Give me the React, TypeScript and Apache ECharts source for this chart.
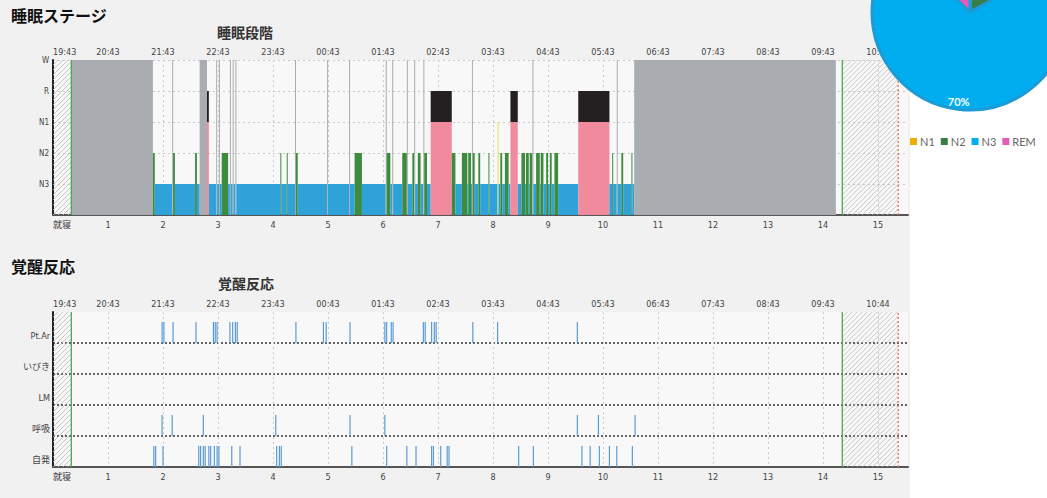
import React, { useEffect, useRef } from "react";
import * as echarts from "echarts";

// ---------- data ----------
const hourLabelsBottom = ["就寝", "1", "2", "3", "4", "5", "6", "7", "8", "9", "10", "11", "12", "13", "14", "15"];
const clockLabelsStage = ["19:43", "20:43", "21:43", "22:43", "23:43", "00:43", "01:43", "02:43", "03:43", "04:43", "05:43", "06:43", "07:43", "08:43", "09:43", "10:43"];
const clockLabelsArousal = ["19:43", "20:43", "21:43", "22:43", "23:43", "00:43", "01:43", "02:43", "03:43", "04:43", "05:43", "06:43", "07:43", "08:43", "09:43", "10:44"];
const stageAxisLabels = ["", "N3", "N2", "N1", "R", "W"];
const xMaxHours = 15.545;

// minutes from bedtime
const lightsOffMin = 20;
const lightsOnMin = 861;
const recordEndMin = 922;

// [start min, end min, stage]
const hypnogram: [number, number, string][] = [
  [20, 109, "W"], [109, 111, "N2"], [111, 130, "N3"], [130, 131, "W"], [131, 133, "N2"],
  [133, 155, "N3"], [155, 157, "N2"], [157, 160, "N3"], [160, 168, "W"], [168, 170, "R"],
  [170, 178, "N3"], [178, 179, "W"], [179, 181, "N3"], [181, 182, "W"], [182, 184, "N3"],
  [184, 191, "N2"], [191, 193, "N3"], [193, 194, "W"], [194, 196, "N3"], [196, 197, "W"],
  [197, 199, "N3"], [199, 200, "W"], [200, 248, "N3"], [248, 249, "N2"], [249, 255, "N3"],
  [255, 256, "N2"], [256, 264, "N3"], [264, 265, "W"], [265, 267, "N2"], [267, 299, "N3"],
  [299, 300, "W"], [300, 323, "N3"], [323, 324, "W"], [324, 329, "N3"], [329, 337, "N2"],
  [337, 363, "N3"], [363, 364, "W"], [364, 368, "N2"], [368, 370, "N3"], [370, 371, "W"],
  [371, 381, "N3"], [381, 386, "N2"], [386, 387, "W"], [387, 392, "N3"], [392, 394, "N2"],
  [394, 395, "W"], [395, 398, "N3"], [398, 401, "N2"], [401, 404, "N3"], [404, 405, "W"],
  [405, 408, "N2"], [408, 412, "N3"], [412, 435, "R"], [435, 439, "N2"], [439, 446, "N3"],
  [446, 452, "N2"], [452, 453, "N3"], [453, 456, "N2"], [456, 457, "N3"], [457, 458, "W"],
  [458, 460, "N2"], [460, 464, "N3"], [464, 466, "N2"], [466, 475, "N3"], [475, 476, "N2"],
  [476, 485, "N3"], [485, 486, "N1"], [486, 488, "N3"], [488, 490, "N2"], [490, 493, "N3"],
  [493, 497, "N2"], [497, 499, "N3"], [499, 507, "R"], [507, 511, "N3"], [511, 515, "N2"],
  [515, 516, "N3"], [516, 519, "N2"], [519, 520, "N3"], [520, 523, "N2"], [523, 524, "W"],
  [524, 527, "N3"], [527, 531, "N2"], [531, 532, "N3"], [532, 535, "N2"], [535, 538, "N3"],
  [538, 540, "N2"], [540, 542, "N3"], [542, 544, "N2"], [544, 547, "N3"], [547, 551, "N2"],
  [551, 573, "N3"], [573, 607, "R"], [607, 610, "N3"], [610, 611, "N2"], [611, 615, "N3"],
  [615, 616, "W"], [616, 620, "N3"], [620, 622, "N2"], [622, 631, "N3"], [631, 632, "N2"],
  [632, 634, "N3"], [634, 854, "W"],
];

const arousalRows = ["Pt.Ar", "いびき", "LM", "呼吸", "自発"];
const ptArEvents = [119, 121, 131, 156, 175, 177, 179, 193, 196, 199, 201, 265, 295, 298, 324, 362, 364, 369, 371, 404, 406, 413, 416, 418, 458, 485, 572];
const snoreEvents: number[] = [];
const lmEvents: number[] = [];
const respEvents = [119, 130, 164, 243, 324, 362, 572, 595, 635];
const spontEvents = [110, 112, 120, 159, 161, 164, 166, 170, 172, 176, 179, 181, 195, 204, 244, 247, 249, 326, 364, 386, 396, 413, 415, 423, 430, 432, 508, 524, 577, 586, 596, 607, 615, 632];

const pieNames = ["N1", "N2", "N3", "REM"];
const pieValues = [1, 16, 70, 13];

// ---------- styles ----------
const stageCode: Record<string, number> = { W: 0, N1: 1, N2: 2, N3: 3, R: 4 };
const stageLevel = [5, 3, 2, 1, 3];
const stageColor = ["#a9acb1", "#e2df5a", "#3d8b3d", "#2fa2da", "#f08a9c"];
const remTopColor = "#241f20";
const pieColors = ["#e8b000", "#3a7d44", "#00aeef", "#e55cb6"];
const tickFont = "'Liberation Sans Narrow', 'DejaVu Sans Condensed', 'Noto Sans CJK JP', sans-serif";
const cjk = "'Noto Sans CJK JP', sans-serif";

function hatchRender(top: number) {
  return (params: any, api: any) => {
    const s = api.value(0);
    const e = api.value(1);
    const p0 = api.coord([s, 0]);
    const p1 = api.coord([e, top]);
    const x0 = p0[0], x1 = p1[0], y0 = p1[1], y1 = p0[1];
    const h = y1 - y0;
    const children: any[] = [];
    for (let a = x0 - h; a < x1; a += 5) {
      let sx = a, sy = y1, ex = a + h, ey = y0;
      if (sx < x0) { sy = y1 - (x0 - sx); sx = x0; }
      if (ex > x1) { ey = y0 + (ex - x1); ex = x1; }
      if (ex <= sx) continue;
      children.push({ type: "line", shape: { x1: sx, y1: sy, x2: ex, y2: ey }, style: { stroke: "#b8b8b8", lineWidth: 0.8 } });
    }
    return { type: "group", children, silent: true };
  };
}

function markerRender(top: number) {
  return (params: any, api: any) => {
    const t = api.value(0);
    const kind = api.value(1);
    const a = api.coord([t, 0]);
    const b = api.coord([t, top]);
    return {
      type: "line",
      shape: { x1: a[0], y1: a[1], x2: b[0], y2: b[1] },
      style: kind === 0
        ? { stroke: "#4aa84f", lineWidth: 1.3 }
        : { stroke: "#e0765a", lineWidth: 1.3, lineDash: [2, 2] },
    };
  };
}

function xAxes(gridIndex: number, clock: string[]) {
  const n = 17;
  return [
    {
      type: "value", gridIndex, position: "bottom", min: 0, max: xMaxHours, interval: 1,
      axisLine: { show: true, onZero: false, lineStyle: { color: "#555", width: 2 } },
      axisTick: { show: false },
      axisLabel: {
        showMaxLabel: false, alignMinLabel: "left", margin: 5, fontSize: 9, color: "#444", fontFamily: tickFont,
        formatter: (v: number) => (Number.isInteger(v) ? hourLabelsBottom[v] ?? "" : ""),
      },
      splitLine: {
        show: true,
        lineStyle: {
          type: [2, 3], width: 1,
          color: Array.from({ length: n }, (_, i) => (i === 0 || i >= 16 ? "rgba(0,0,0,0)" : "#cacaca")),
        },
      },
    },
    {
      type: "value", gridIndex, position: "top", min: 0, max: xMaxHours, interval: 1,
      axisLine: { show: false }, axisTick: { show: false }, splitLine: { show: false },
      axisLabel: {
        showMaxLabel: false, alignMinLabel: "left", margin: 4, fontSize: 9, color: "#444", fontFamily: tickFont,
        formatter: (v: number) => (Number.isInteger(v) ? clock[v] ?? "" : ""),
      },
    },
  ];
}

export default function App() {
  const ref = useRef<HTMLDivElement>(null);

  useEffect(() => {
    if (!ref.current) return;
    const chart = echarts.init(ref.current, undefined, { renderer: "svg" });

    const arousalData: number[][] = [];
    [ptArEvents, snoreEvents, lmEvents, respEvents, spontEvents].forEach((arr, row) => {
      arr.forEach((m) => arousalData.push([m / 60, 4 - row]));
    });

    const markers = [[lightsOffMin / 60, 0], [lightsOnMin / 60, 0], [recordEndMin / 60, 1]];
    const hatches = [[0, lightsOffMin / 60], [lightsOnMin / 60, recordEndMin / 60]];

    const option: any = {
      animation: false,
      backgroundColor: "transparent",
      grid: [
        { left: 53, top: 60, width: 855, height: 155, show: true, backgroundColor: "#f8f8f8", borderWidth: 0 },
        { left: 53, top: 312, width: 855, height: 155, show: true, backgroundColor: "#f8f8f8", borderWidth: 0 },
      ],
      xAxis: [...xAxes(0, clockLabelsStage), ...xAxes(1, clockLabelsArousal)],
      yAxis: [
        {
          type: "value", gridIndex: 0, min: 0, max: 5, interval: 1,
          axisLine: { show: true, lineStyle: { color: "#222", width: 2 } },
          axisTick: { show: false },
          axisLabel: { fontSize: 8, color: "#444", margin: 4, fontFamily: tickFont, formatter: (v: number) => stageAxisLabels[v] ?? "" },
          splitLine: { show: true, lineStyle: { type: [2, 3], color: ["rgba(0,0,0,0)", "#cacaca", "#cacaca", "#cacaca", "#cacaca", "#cacaca"] } },
        },
        {
          type: "value", gridIndex: 1, min: 0, max: 5, interval: 1,
          axisLine: { show: true, lineStyle: { color: "#222", width: 2 } },
          axisTick: { show: false },
          axisLabel: {
            fontSize: 9, color: "#444", margin: 3, verticalAlign: "bottom", padding: [0, 0, 3, 0], fontFamily: tickFont,
            formatter: (v: number) => (v <= 4 ? arousalRows[4 - v] : ""),
          },
          splitLine: { show: true, lineStyle: { type: [2, 2], width: 1.5, color: ["rgba(0,0,0,0)", "#333", "#333", "#333", "#333", "rgba(0,0,0,0)"] } },
        },
      ],
      legend: {
        data: pieNames, left: 905, top: 131, width: 142, icon: "rect", itemWidth: 7, itemHeight: 7, itemGap: 6,
        itemStyle: { borderWidth: 0 },
        textStyle: { fontSize: 11, color: "#666", fontFamily: "Lato, sans-serif", padding: [0, 0, 0, -2] },
        selectedMode: false,
      },
      graphic: [
        { type: "text", left: 11, top: 7, style: { text: "睡眠ステージ", fontSize: 16, fontWeight: "bold", fill: "#111", fontFamily: cjk } },
        { type: "text", left: 217, top: 25, style: { text: "睡眠段階", fontSize: 14, fontWeight: "bold", fill: "#333", fontFamily: cjk } },
        { type: "text", left: 11, top: 258, style: { text: "覚醒反応", fontSize: 16, fontWeight: "bold", fill: "#111", fontFamily: cjk } },
        { type: "text", left: 218, top: 276, style: { text: "覚醒反応", fontSize: 14, fontWeight: "bold", fill: "#333", fontFamily: cjk } },
      ],
      series: [
        {
          type: "custom", xAxisIndex: 0, yAxisIndex: 0, silent: true,
          data: hatches, encode: { x: [0, 1] }, renderItem: hatchRender(5),
        },
        {
          type: "custom", xAxisIndex: 0, yAxisIndex: 0, silent: true,
          data: hypnogram.map(([s, e, st]) => [s / 60, e / 60, stageCode[st]]),
          encode: { x: [0, 1], y: 2 },
          renderItem: (params: any, api: any) => {
            const s = api.value(0);
            const e = api.value(1);
            const c = api.value(2);
            const a = api.coord([s, 0]);
            const b = api.coord([e, stageLevel[c]]);
            const w = Math.max(b[0] - a[0], 1);
            const children: any[] = [
              { type: "rect", shape: { x: a[0], y: b[1], width: w, height: a[1] - b[1] }, style: { fill: stageColor[c] } },
            ];
            if (c === 4) {
              const t = api.coord([e, 4]);
              children.push({ type: "rect", shape: { x: a[0], y: t[1], width: w, height: b[1] - t[1] }, style: { fill: remTopColor } });
            }
            return { type: "group", children };
          },
        },
        {
          type: "custom", xAxisIndex: 0, yAxisIndex: 0, silent: true,
          data: markers, encode: { x: 0 }, renderItem: markerRender(5),
        },
        {
          type: "custom", xAxisIndex: 2, yAxisIndex: 1, silent: true,
          data: hatches, encode: { x: [0, 1] }, renderItem: hatchRender(5),
        },
        {
          type: "custom", xAxisIndex: 2, yAxisIndex: 1, silent: true,
          data: arousalData, encode: { x: 0, y: 1 },
          renderItem: (params: any, api: any) => {
            const t = api.value(0);
            const base = api.value(1);
            const a = api.coord([t, base]);
            const b = api.coord([t, base + 0.68]);
            return { type: "line", shape: { x1: a[0], y1: a[1], x2: b[0], y2: b[1] }, style: { stroke: "#5b9bd5", lineWidth: 1.2 } };
          },
        },
        {
          type: "custom", xAxisIndex: 2, yAxisIndex: 1, silent: true,
          data: markers, encode: { x: 0 }, renderItem: markerRender(5),
        },
        {
          type: "pie", center: [970, 12], radius: 98, startAngle: 90, clockwise: true, z: 5,
          label: { show: false }, labelLine: { show: false },
          itemStyle: { borderColor: "#1c9bd7", borderWidth: 3 },
          data: pieNames.map((n, i) => ({ name: n, value: pieValues[i], itemStyle: { color: pieColors[i] } })),
        },
        {
          type: "pie", center: [970, 12], radius: [76, 98], startAngle: 90, clockwise: true, z: 6, silent: true,
          itemStyle: { color: "rgba(0,0,0,0)", borderWidth: 0 }, labelLine: { show: false },
          label: { show: false },
          data: pieNames.map((n, i) => ({
            name: n, value: pieValues[i],
            label: i === 2
              ? { show: true, position: "inside", formatter: `${pieValues[i]}%`, color: "#fff", fontSize: 11, fontWeight: "bold", fontFamily: "Lato, sans-serif" }
              : { show: false },
          })),
        },
      ],
    };

    chart.setOption(option);
    return () => chart.dispose();
  }, []);

  return (
    <div
      ref={ref}
      style={{
        position: "absolute", left: 0, top: 0, width: 1047, height: 498,
        background: "linear-gradient(to right, #f1f1f1 0px, #f1f1f1 910px, #ffffff 910px)",
      }}
    />
  );
}
